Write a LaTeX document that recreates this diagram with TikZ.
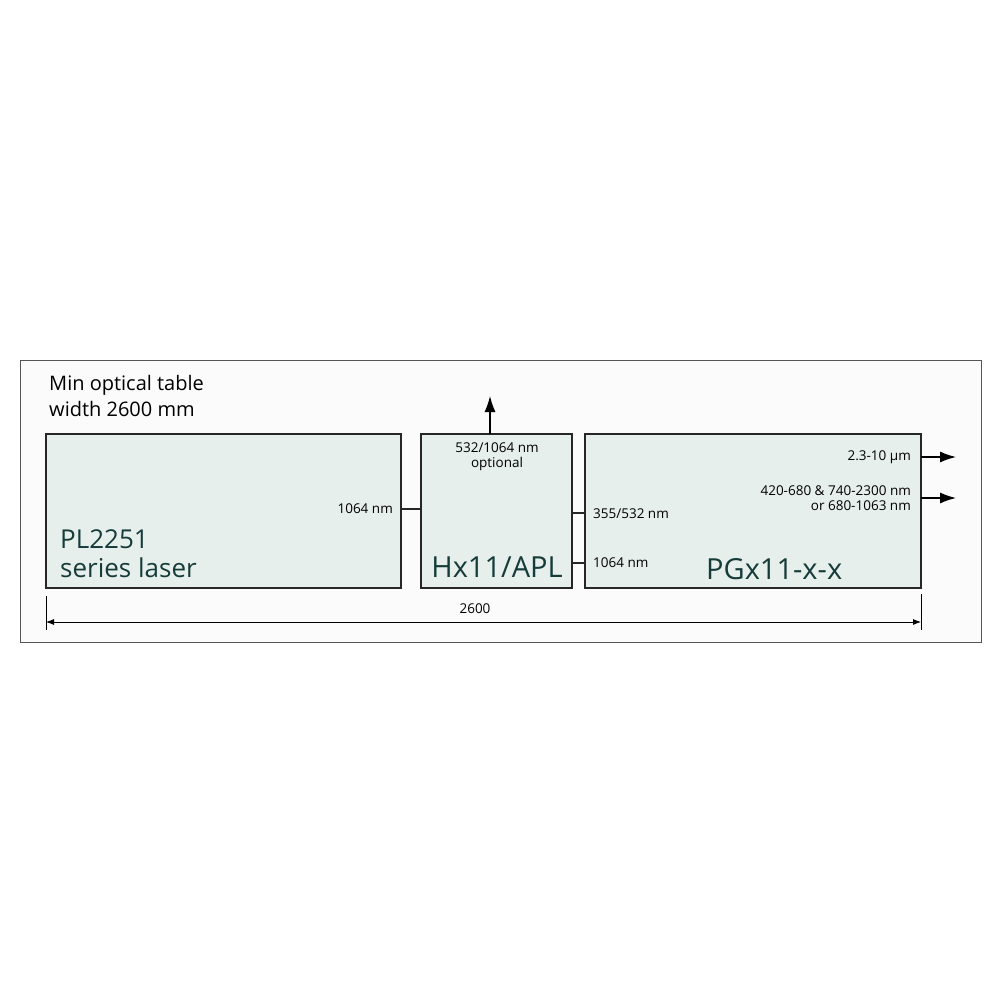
\documentclass[tikz,border=0pt]{standalone}
\usepackage{fontspec}
\setmainfont{Open Sans}
\usetikzlibrary{arrows.meta}
\definecolor{boxfill}{HTML}{E7EFEC}
\definecolor{frameline}{HTML}{555555}
\definecolor{labtxt}{HTML}{163C3A}
\definecolor{framefill}{HTML}{FBFBFB}
\tikzset{
  unitbox/.style={draw=black!85, line width=1.4pt, fill=boxfill, minimum height=154pt, inner sep=0pt, outer sep=0pt, anchor=north west},
  bigtxt/.style={font=\fontsize{26}{29}\selectfont, text=labtxt, inner sep=0pt},
  biggertxt/.style={font=\fontsize{29}{32}\selectfont, text=labtxt, inner sep=0pt},
  smalltxt/.style={font=\fontsize{13.5}{15}\selectfont, inner sep=0pt},
  conn/.style={line width=1.2pt, draw=black!85},
  outarrow/.style={line width=1.3pt, -{Latex[length=16pt,width=11pt]}},
  dimline/.style={line width=0.8pt, {Latex[length=8pt,width=6pt]}-{Latex[length=8pt,width=6pt]}},
}
\begin{document}
\begin{tikzpicture}[x=1pt,y=-1pt]
\useasboundingbox[fill=white] (0,0) rectangle (1000,1000);
\draw[frameline, fill=framefill, line width=1pt] (20,360) rectangle (981,642);
\node[font=\fontsize{20}{26}\selectfont, align=left, anchor=north west, inner sep=0pt] (title) at (49,375) {Min optical table\\width 2600 mm};

\node[unitbox, minimum width=355pt] (b1) at (46,434) {};
\node[unitbox, minimum width=151pt] (b2) at (421,434) {};
\node[unitbox, minimum width=336pt] (b3) at (585,434) {};

% labels in boxes
\node[bigtxt, align=left, anchor=west] (l1) at (60,554) {PL2251\\series laser};
\node[biggertxt, anchor=center] (l2) at (497,567) {Hx11/APL};
\node[biggertxt, anchor=west] (l3) at (706,569) {PGx11-x-x};

\node[smalltxt, anchor=east] (t1) at (393,509) {1064 nm};
\node[smalltxt, align=center, anchor=center] (t2) at (497,457) {532/1064 nm\\optional};
\node[smalltxt, anchor=west] (t3) at (593,514) {355/532 nm};
\node[smalltxt, anchor=west] (t4) at (593,563) {1064 nm};
\node[smalltxt, anchor=east] (t5) at (911,457) {2.3-10 µm};
\node[smalltxt, align=right, anchor=east] (t6) at (911,498) {420-680 \& 740-2300 nm\\or 680-1063 nm};

% connectors
\draw[conn] (b1.north east |- 0,509) -- (b2.north west |- 0,509);
\draw[conn] (b2.north east |- 0,513) -- (b3.north west |- 0,513);
\draw[conn] (b2.north east |- 0,563) -- (b3.north west |- 0,563);
\coordinate (up) at (490,396);
\draw[outarrow] (b2.north -| up) -- (up);
\coordinate (o1) at (956,457);
\coordinate (o2) at (956,498);
\draw[outarrow] (b3.east |- o1) -- (o1);
\draw[outarrow] (b3.east |- o2) -- (o2);

% dimension
\coordinate (d1) at (46,622);
\coordinate (d2) at (921,622);
\draw[line width=0.6pt] (b1.south west) ++(0,8) -- (46,630);
\draw[line width=0.6pt] (b3.south east) ++(0,6) -- (921,630);
\draw[dimline] (d1) -- (d2);
\node[smalltxt] (dim) at (475,609) {2600};
\end{tikzpicture}
\end{document}
